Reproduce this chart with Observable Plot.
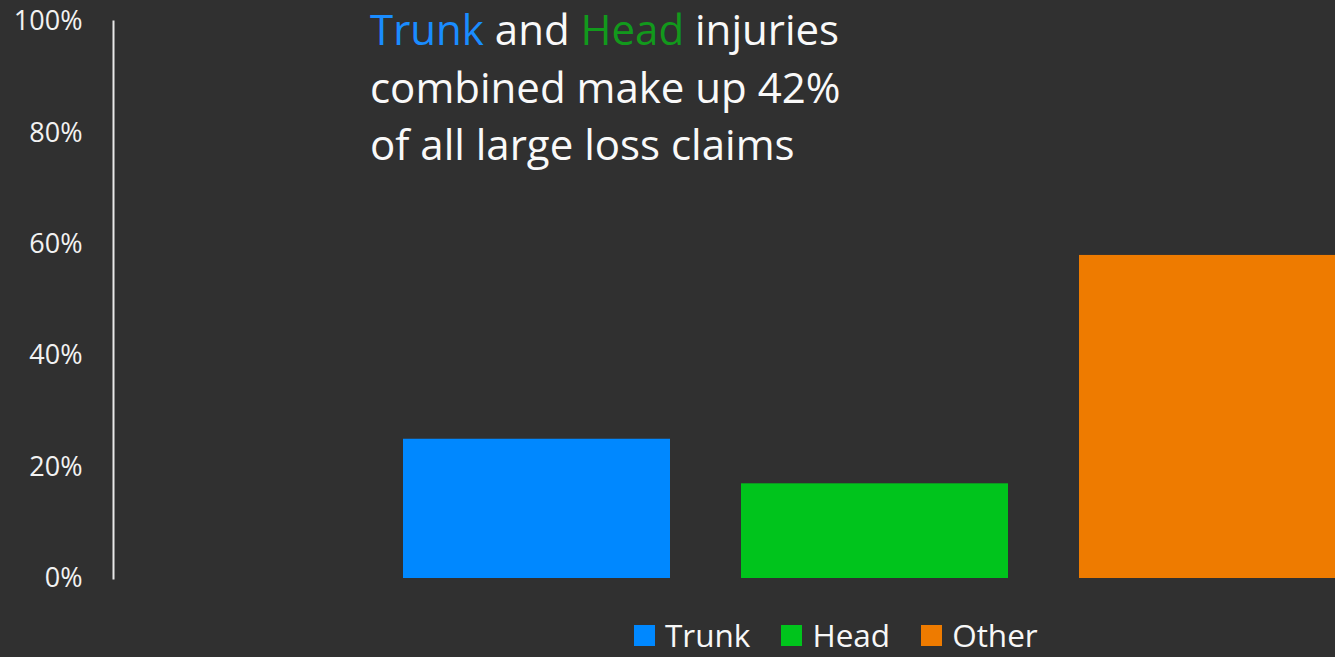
<!DOCTYPE html>
<html>
<head>
<meta charset="utf-8">
<script src="https://cdn.jsdelivr.net/npm/d3@7"></script>
<script src="https://cdn.jsdelivr.net/npm/@observablehq/plot@0.6"></script>
<style>
  html, body { margin: 0; padding: 0; background: #303030; }
  body { width: 1335px; height: 657px; overflow: hidden; position: relative; font-family: "Open Sans", sans-serif; }
  #chart { position: absolute; left: 0; top: 0; }
  #title { position: absolute; left: 370px; top: 6px; font-size: 42px; color: #f9f9f9; white-space: nowrap; }
  #title .line { height: 46px; line-height: 46px; margin-bottom: 12px; }
  #title .line:nth-child(2) { margin-bottom: 11px; }
  #legend { position: absolute; left: 634px; top: 614px; display: flex; align-items: center; font-size: 31.5px; line-height: 42px; color: #f7f7f7; white-space: nowrap; }
  #legend .item { display: flex; align-items: center; margin-right: 31px; }
  #legend .sw { width: 21px; height: 21px; margin-right: 10px; }
</style>
</head>
<body>
<div id="chart"></div>
<div id="title"></div>
<div id="legend"></div>
<script>
const categories = ["Trunk", "Head", "Other"];
const shares = [25, 17, 58];
const barColors = ["#0088ff", "#00c41c", "#ee7b00"];
const titleColors = { Trunk: "#1a8cff", Head: "#12991c" };
const yTicks = [0, 20, 40, 60, 80, 100];

const data = categories.map((c, i) => ({ category: c, share: shares[i] }));

const chart = Plot.plot({
  width: 1335,
  height: 600,
  marginLeft: 113,
  marginRight: 0,
  marginTop: 21,
  marginBottom: 22,
  style: { background: "#303030", color: "#f2f2f2", fontFamily: "Open Sans, sans-serif", overflow: "hidden" },
  x: { domain: categories, range: [332, 1417], padding: 0.21, axis: null },
  y: { domain: [0, 100] },
  color: { domain: categories, range: barColors },
  marks: [
    Plot.barY(data, { x: "category", y: "share", fill: "category" }),
    Plot.axisY({ ticks: yTicks, tickFormat: d => d + "%", tickSize: 0, tickPadding: 31, fontSize: 27, label: null, fill: "#f2f2f2" }),
    Plot.frame({ anchor: "left", stroke: "#e8e8e8", strokeWidth: 2 })
  ]
});
document.getElementById("chart").appendChild(chart);

const title = document.getElementById("title");
title.innerHTML =
  `<div class="line"><span style="color:${titleColors.Trunk}">${categories[0]}</span> and <span style="color:${titleColors.Head}">${categories[1]}</span> injuries</div>` +
  `<div class="line">combined make up ${shares[0] + shares[1]}%</div><div class="line">of all large loss claims</div>`;

const legend = document.getElementById("legend");
categories.forEach((c, i) => {
  const item = document.createElement("div");
  item.className = "item";
  item.innerHTML = `<div class="sw" style="background:${barColors[i]}"></div><span>${c}</span>`;
  legend.appendChild(item);
});
</script>
</body>
</html>
